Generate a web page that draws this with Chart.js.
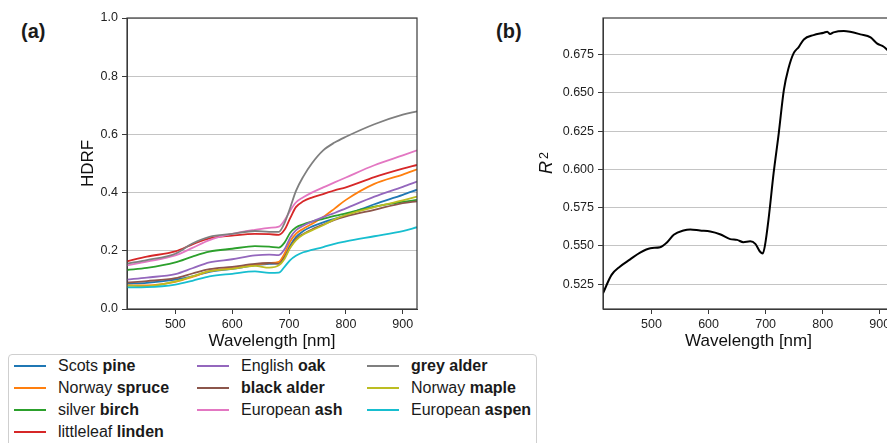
<!DOCTYPE html>
<html>
<head>
<meta charset="utf-8">
<script src="https://cdn.jsdelivr.net/npm/chart.js@4.4.0/dist/chart.umd.min.js"></script>
<style>
  html, body { margin: 0; padding: 0; background: #fff; overflow: hidden; }
  body { width: 887px; height: 443px; position: relative; font-family: "Liberation Sans", Arial, sans-serif; color: #1a1a1a; }
  .panel-label { position: absolute; font-weight: bold; font-size: 20px; line-height: 20px; }
  #wrapA { position: absolute; left: 0; top: 0; width: 440px; height: 352px; }
  #wrapB { position: absolute; left: 500px; top: 0; width: 400px; height: 352px; }
  #legend { position: absolute; left: 8px; top: 354px; width: 529px; height: 110px; border: 1px solid #cfcfcf; border-radius: 4px; box-sizing: border-box; background: #fff; }
  .item { position: absolute; height: 22px; font-size: 16px; line-height: 22px; white-space: nowrap; }
  .swatch { position: absolute; left: 0; top: 10px; width: 32px; height: 2px; }
  .txt { position: absolute; left: 44px; top: 0; }
</style>
</head>
<body>
<div class="panel-label" style="left:21px; top:21px;">(a)</div>
<div class="panel-label" style="left:496px; top:21px;">(b)</div>
<div id="wrapA"><canvas id="chartA" width="440" height="352"></canvas></div>
<div id="wrapB"><canvas id="chartB" width="400" height="352"></canvas></div>
<div id="legend"></div>

<script>
// ---- data (panel a) ----
const wavelengths = [415, 450, 500, 530, 560, 600, 640, 665, 682, 692, 702, 712, 725, 740, 760, 780, 800, 850, 900, 925];

const scotsPine        = [0.087, 0.090, 0.101, 0.112, 0.128, 0.138, 0.150, 0.155, 0.158, 0.180, 0.218, 0.247, 0.268, 0.283, 0.298, 0.310, 0.323, 0.360, 0.392, 0.410];
const norwaySpruce     = [0.081, 0.081, 0.093, 0.110, 0.130, 0.140, 0.152, 0.158, 0.162, 0.190, 0.232, 0.258, 0.276, 0.292, 0.316, 0.345, 0.375, 0.430, 0.462, 0.480];
const silverBirch      = [0.134, 0.141, 0.160, 0.180, 0.197, 0.207, 0.216, 0.214, 0.211, 0.228, 0.262, 0.280, 0.291, 0.300, 0.310, 0.320, 0.329, 0.352, 0.368, 0.375];
const littleleafLinden = [0.164, 0.180, 0.198, 0.222, 0.243, 0.252, 0.258, 0.257, 0.255, 0.272, 0.312, 0.350, 0.370, 0.383, 0.395, 0.408, 0.418, 0.453, 0.482, 0.495];
const englishOak       = [0.101, 0.108, 0.120, 0.140, 0.160, 0.171, 0.184, 0.187, 0.185, 0.205, 0.245, 0.270, 0.286, 0.300, 0.316, 0.330, 0.346, 0.386, 0.420, 0.438];
const blackAlder       = [0.091, 0.096, 0.106, 0.122, 0.137, 0.145, 0.155, 0.158, 0.155, 0.178, 0.212, 0.240, 0.258, 0.273, 0.290, 0.306, 0.318, 0.341, 0.364, 0.370];
const europeanAsh      = [0.150, 0.163, 0.184, 0.210, 0.237, 0.258, 0.272, 0.279, 0.283, 0.305, 0.338, 0.366, 0.384, 0.400, 0.418, 0.435, 0.452, 0.494, 0.528, 0.545];
const greyAlder        = [0.156, 0.168, 0.190, 0.225, 0.248, 0.258, 0.268, 0.265, 0.265, 0.295, 0.348, 0.405, 0.455, 0.500, 0.545, 0.572, 0.592, 0.635, 0.668, 0.679];
const norwayMaple      = [0.080, 0.078, 0.095, 0.112, 0.130, 0.138, 0.148, 0.142, 0.150, 0.172, 0.210, 0.236, 0.256, 0.270, 0.288, 0.308, 0.323, 0.350, 0.373, 0.386];
const europeanAspen    = [0.074, 0.075, 0.084, 0.097, 0.112, 0.121, 0.129, 0.124, 0.125, 0.145, 0.168, 0.183, 0.195, 0.203, 0.213, 0.224, 0.232, 0.250, 0.268, 0.281];

const hdrfSeries = [scotsPine, norwaySpruce, silverBirch, littleleafLinden, englishOak,
                    blackAlder, europeanAsh, greyAlder, norwayMaple, europeanAspen];

const namePlain = ['Scots ', 'Norway ', 'silver ', 'littleleaf ', 'English ', '', 'European ', '', 'Norway ', 'European '];
const nameBold  = ['pine', 'spruce', 'birch', 'linden', 'oak', 'black alder', 'ash', 'grey alder', 'maple', 'aspen'];
const colors = ['#1f77b4', '#ff7f0e', '#2ca02c', '#d62728', '#9467bd',
                '#8c564b', '#e377c2', '#7f7f7f', '#bcbd22', '#17becf'];

// ---- data (panel b) ----
const r2Wavelengths = [415, 430, 445, 462, 480, 498, 515, 527, 539, 556, 568, 585, 603, 620, 638, 650, 661, 673, 682, 690,
                       695, 699, 705, 714, 723, 732, 740, 749, 758, 767, 784, 802, 808, 813, 819, 837, 848, 866, 884, 895,
                       907, 914, 925];
const r2Values = [0.519, 0.531, 0.5365, 0.541, 0.5456, 0.5485, 0.5491, 0.5522, 0.5572, 0.5600, 0.5607, 0.5600, 0.5594, 0.5576,
                  0.5544, 0.5539, 0.5524, 0.5530, 0.5513, 0.5463, 0.5450, 0.5506, 0.5670, 0.5975, 0.6236, 0.6520, 0.6660,
                  0.6759, 0.6800, 0.6850, 0.6878, 0.6894, 0.6900, 0.6885, 0.6896, 0.6905, 0.6900, 0.6883, 0.6863, 0.6824,
                  0.6802, 0.6780, 0.6750];

// ---- ticks ----
const wavelengthTicks = [500, 600, 700, 800, 900];
const hdrfTicks = [0.0, 0.2, 0.4, 0.6, 0.8, 1.0];
const r2Ticks = [0.525, 0.550, 0.575, 0.600, 0.625, 0.650, 0.675];

Chart.defaults.font.family = '"Liberation Sans", Arial, sans-serif';
Chart.defaults.color = '#222';

const frameColor = '#3a3a3a';
const gridColor = '#c4c4c4';

const framePlugin = {
  id: 'frame',
  afterDraw(chart) {
    const { ctx, chartArea: a } = chart;
    ctx.save();
    ctx.strokeStyle = frameColor;
    ctx.lineWidth = 1.2;
    ctx.strokeRect(a.left, a.top, a.right - a.left, a.bottom - a.top);
    ctx.restore();
  }
};

function xScale() {
  return {
    type: 'linear',
    min: 415,
    max: 925,
    afterBuildTicks: s => { s.ticks = wavelengthTicks.map(v => ({ value: v })); },
    afterFit: s => { s.height = 43; },
    grid: { drawOnChartArea: false, tickLength: 5, tickColor: frameColor },
    border: { color: frameColor, width: 1 },
    ticks: { padding: 3, font: { size: 12.5 }, callback: v => String(v) },
    title: { display: true, text: 'Wavelength [nm]', color: '#111', font: { size: 17 }, padding: 0 }
  };
}

// ---- panel a ----
new Chart(document.getElementById('chartA'), {
  type: 'line',
  data: {
    datasets: hdrfSeries.map((vals, i) => ({
      label: namePlain[i] + nameBold[i],
      data: wavelengths.map((w, k) => ({ x: w, y: vals[k] })),
      borderColor: colors[i],
      borderWidth: 1.8,
      pointRadius: 0,
      cubicInterpolationMode: 'monotone',
      order: 10 - i
    }))
  },
  options: {
    responsive: false,
    animation: false,
    layout: { padding: { left: 78, top: 18, right: 23, bottom: 0 } },
    plugins: { legend: { display: false }, tooltip: { enabled: false } },
    scales: {
      x: xScale(),
      y: {
        min: 0,
        max: 1,
        afterBuildTicks: s => { s.ticks = hdrfTicks.map(v => ({ value: v })); },
        afterFit: s => { s.width = 49; },
        grid: { color: gridColor, tickLength: 5, tickColor: frameColor },
        border: { color: frameColor, width: 1 },
        ticks: { padding: 4, font: { size: 12.5 }, callback: v => v.toFixed(1) },
        title: { display: true, text: 'HDRF', color: '#111', font: { size: 17 }, padding: 0 }
      }
    }
  },
  plugins: [framePlugin]
});

// ---- panel b ----
const r2LabelPlugin = {
  id: 'r2label',
  afterDraw(chart) {
    const ctx = chart.ctx;
    ctx.save();
    ctx.translate(45, 163);
    ctx.rotate(-Math.PI / 2);
    ctx.fillStyle = '#111';
    ctx.textBaseline = 'alphabetic';
    ctx.font = 'italic 18px "Liberation Sans", Arial, sans-serif';
    const rw = ctx.measureText('R').width;
    ctx.font = '12.5px "Liberation Sans", Arial, sans-serif';
    const sw = ctx.measureText('2').width;
    const start = -(rw + 2 + sw) / 2;
    ctx.font = 'italic 18px "Liberation Sans", Arial, sans-serif';
    ctx.fillText('R', start, 7);
    ctx.font = '12.5px "Liberation Sans", Arial, sans-serif';
    ctx.fillText('2', start + rw + 2, 3);
    ctx.restore();
  }
};

new Chart(document.getElementById('chartB'), {
  type: 'line',
  data: {
    datasets: [{
      label: 'R2',
      data: r2Wavelengths.map((w, k) => ({ x: w, y: r2Values[k] })),
      borderColor: '#000',
      borderWidth: 2,
      pointRadius: 0,
      cubicInterpolationMode: 'monotone'
    }]
  },
  options: {
    responsive: false,
    animation: false,
    layout: { padding: { left: 0, top: 18, right: 6, bottom: 0 } },
    plugins: { legend: { display: false }, tooltip: { enabled: false } },
    scales: {
      x: xScale(),
      y: {
        min: 0.5087,
        max: 0.699,
        afterBuildTicks: s => { s.ticks = r2Ticks.map(v => ({ value: v })); },
        afterFit: s => { s.width = 103; },
        grid: { color: gridColor, tickLength: 5, tickColor: frameColor },
        border: { color: frameColor, width: 1 },
        ticks: { padding: 4, font: { size: 12.5 }, callback: v => v.toFixed(3) }
      }
    }
  },
  plugins: [framePlugin, r2LabelPlugin]
});

// ---- legend (3 columns, column-major, 4/3/3) ----
const legendCols = [5, 188, 358];
const legendRows = [0, 22, 44, 66];
const colOf = [0, 0, 0, 0, 1, 1, 1, 2, 2, 2];
const rowOf = [0, 1, 2, 3, 0, 1, 2, 0, 1, 2];
const legendEl = document.getElementById('legend');
nameBold.forEach((b, i) => {
  const item = document.createElement('div');
  item.className = 'item';
  item.style.left = legendCols[colOf[i]] + 'px';
  item.style.top = legendRows[rowOf[i]] + 'px';
  item.innerHTML = '<div class="swatch" style="background:' + colors[i] + '"></div>' +
                   '<span class="txt">' + namePlain[i] + '<b>' + b + '</b></span>';
  legendEl.appendChild(item);
});
</script>
</body>
</html>
